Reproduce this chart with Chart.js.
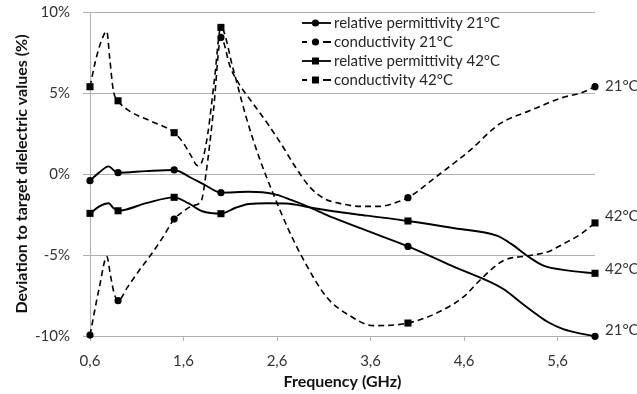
<!DOCTYPE html>
<html>
<head>
<meta charset="utf-8">
<script src="https://cdn.jsdelivr.net/npm/chart.js@4.4.1/dist/chart.umd.min.js"></script>
<style>
  html, body { margin: 0; padding: 0; background: #ffffff; }
  #wrap { width: 637px; height: 394px; }
</style>
</head>
<body>
<div id="wrap"><canvas id="c" width="637" height="394"></canvas></div>
<script>
// ---------- data ----------
const xTickValues = [0.6, 1.6, 2.6, 3.6, 4.6, 5.6];
const yTickValues = [-10, -5, 0, 5, 10];
const markerFreqs = [0.6, 0.9, 1.5, 2.0, 4.0, 6.0];

const seriesNames = [
  'relative permittivity 21°C',
  'conductivity 21°C',
  'relative permittivity 42°C',
  'conductivity 42°C'
];
const endLabels = ['21°C', '21°C', '42°C', '42°C'];

const perm21Freq = [0.6, 0.7, 0.8, 0.85, 0.9, 1.2, 1.5, 1.67, 1.83, 2.0, 2.3, 2.56, 2.75, 2.95, 3.2, 3.56, 4.0, 4.5, 5.02, 5.2, 5.37, 5.5, 5.66, 5.85, 6.0];
const perm21Val  = [-0.41, 0.1, 0.47, 0.25, 0.08, 0.18, 0.25, -0.2, -0.68, -1.15, -1.1, -1.23, -1.6, -2.06, -2.7, -3.5, -4.47, -5.75, -7.1, -7.9, -8.64, -9.15, -9.57, -9.85, -10.02];

const cond21Freq = [0.6, 0.7, 0.78, 0.82, 0.86, 0.9, 1.0, 1.12, 1.25, 1.38, 1.5, 1.6, 1.7, 1.79, 1.84, 1.92, 2.0, 2.1, 2.2, 2.35, 2.5, 2.65, 2.8, 2.95, 3.1, 3.3, 3.5, 3.7, 3.85, 4.0, 4.34, 4.66, 4.98, 5.3, 5.66, 5.85, 6.0];
const cond21Val  = [-9.94, -7.0, -5.1, -6.3, -7.4, -7.82, -7.0, -6.0, -5.0, -3.9, -2.78, -2.3, -1.95, -1.65, 0.0, 3.9, 8.43, 6.6, 5.5, 4.3, 3.1, 1.8, 0.4, -0.8, -1.5, -1.85, -2.0, -2.0, -1.8, -1.46, 0.0, 1.44, 3.09, 3.9, 4.73, 5.0, 5.39];

const perm42Freq = [0.6, 0.7, 0.8, 0.85, 0.9, 1.2, 1.5, 1.65, 1.8, 2.0, 2.15, 2.3, 2.5, 2.7, 2.95, 3.2, 3.56, 4.0, 4.5, 4.95, 5.1, 5.3, 5.45, 5.7, 6.0];
const perm42Val  = [-2.43, -2.0, -1.81, -2.1, -2.27, -1.8, -1.44, -1.8, -2.3, -2.45, -2.1, -1.85, -1.81, -1.82, -2.06, -2.3, -2.57, -2.9, -3.35, -3.81, -4.3, -5.15, -5.66, -5.95, -6.13];

const cond42Freq = [0.6, 0.66, 0.72, 0.78, 0.81, 0.85, 0.9, 1.02, 1.24, 1.5, 1.6, 1.67, 1.755, 1.8, 1.86, 1.93, 2.0, 2.13, 2.27, 2.41, 2.56, 2.72, 2.87, 3.13, 3.38, 3.63, 4.0, 4.3, 4.59, 4.8, 5.02, 5.3, 5.5, 5.66, 5.85, 6.0];
const cond42Val  = [5.39, 7.0, 8.2, 8.8, 7.2, 5.14, 4.52, 3.9, 3.29, 2.55, 1.9, 1.23, 0.51, 0.8, 2.5, 5.8, 9.05, 6.5, 3.5, 1.0, -1.23, -3.4, -5.15, -7.6, -8.75, -9.36, -9.2, -8.6, -7.6, -6.38, -5.35, -5.04, -4.8, -4.32, -3.7, -3.02];

// ---------- chart ----------
const FONT = 'Lato, "Open Sans", sans-serif';
const GRID = '#b0b0b0';

function pts(fs, vs) { return fs.map((f, i) => ({ x: f, y: vs[i] })); }

const seriesFreq = [perm21Freq, cond21Freq, perm42Freq, cond42Freq];
const seriesVal  = [perm21Val, cond21Val, perm42Val, cond42Val];
const dashed = [false, true, false, true];
const square = [false, false, true, true];
const labelDy = [-6, -1, -4, -7];

const datasets = seriesNames.map((name, i) => ({
  label: name,
  data: pts(seriesFreq[i], seriesVal[i]),
  borderColor: '#000',
  backgroundColor: '#000',
  borderWidth: dashed[i] ? 1.6 : 1.9,
  borderDash: dashed[i] ? [6, 4] : [],
  cubicInterpolationMode: 'monotone',
  pointStyle: square[i] ? 'rect' : 'circle',
  pointRadius: ctx => markerFreqs.some(m => Math.abs(m - ctx.raw.x) < 1e-9) ? (square[i] ? 5 : 3.6) : 0,
  pointBorderWidth: 0,
  pointBackgroundColor: '#000',
  clip: false,
  endLabel: endLabels[i],
  endDy: labelDy[i]
}));

const legendPlugin = {
  id: 'customLegend',
  afterDraw(chart) {
    const ctx = chart.ctx;
    const x0 = 302, x1 = 331, xm = 315.5, xt = 334;
    const rows = [23, 42, 61, 80];
    ctx.save();
    seriesNames.forEach((name, i) => {
      const y = rows[i];
      ctx.strokeStyle = '#000';
      ctx.fillStyle = '#000';
      ctx.lineWidth = 1.8;
      ctx.setLineDash([]);
      ctx.beginPath();
      if (dashed[i]) {
        ctx.moveTo(x0, y); ctx.lineTo(x0 + 5, y);
        ctx.moveTo(x1 - 8, y); ctx.lineTo(x1, y);
      } else {
        ctx.moveTo(x0, y); ctx.lineTo(x1, y);
      }
      ctx.stroke();
      ctx.beginPath();
      if (square[i]) {
        ctx.rect(xm - 3.5, y - 3.5, 7, 7);
      } else {
        ctx.arc(xm, y, 3.6, 0, Math.PI * 2);
      }
      ctx.fill();
      ctx.fillStyle = '#262626';
      ctx.font = '15px ' + FONT;
      ctx.textAlign = 'left';
      ctx.textBaseline = 'middle';
      ctx.fillText(name, xt, y);
    });
    ctx.restore();
  }
};

const endLabelPlugin = {
  id: 'endLabels',
  afterDatasetsDraw(chart) {
    const ctx = chart.ctx;
    ctx.save();
    ctx.fillStyle = '#333';
    ctx.font = '15px ' + FONT;
    ctx.textAlign = 'left';
    ctx.textBaseline = 'middle';
    chart.data.datasets.forEach((ds, i) => {
      const meta = chart.getDatasetMeta(i);
      const last = meta.data[meta.data.length - 1];
      ctx.fillText(ds.endLabel, last.x + 10, last.y + ds.endDy);
    });
    ctx.restore();
  }
};

new Chart(document.getElementById('c'), {
  type: 'line',
  data: { datasets },
  plugins: [legendPlugin, endLabelPlugin],
  options: {
    responsive: false,
    animation: false,
    events: [],
    layout: { padding: { top: 12, right: 42, bottom: 0, left: 0 } },
    plugins: { legend: { display: false }, tooltip: { enabled: false } },
    scales: {
      x: {
        type: 'linear',
        min: 0.6,
        max: 6.0,
        afterBuildTicks: s => { s.ticks = xTickValues.map(v => ({ value: v })); },
        afterFit: s => { s.height = 58; s.paddingLeft = 0; s.paddingRight = 0; },
        ticks: {
          callback: v => Number(v).toFixed(1).replace('.', ','),
          font: { family: FONT, size: 15 },
          color: '#333',
          padding: 11,
          maxRotation: 0,
          autoSkip: false
        },
        grid: { drawOnChartArea: false, drawTicks: true, tickLength: 5, color: GRID },
        border: { color: GRID },
        title: {
          display: true,
          text: 'Frequency (GHz)',
          font: { family: FONT, size: 16, weight: 'bold' },
          color: '#111',
          padding: { top: 0, bottom: 2.4 }
        }
      },
      y: {
        min: -10,
        max: 10,
        afterBuildTicks: s => { s.ticks = yTickValues.map(v => ({ value: v })); },
        afterFit: s => { s.width = 90; s.paddingTop = 0; s.paddingBottom = 0; },
        ticks: {
          callback: v => v + '%',
          font: { family: FONT, size: 15 },
          color: '#333',
          padding: 13
        },
        grid: { color: GRID, tickLength: 7 },
        border: { color: GRID },
        title: {
          display: true,
          text: 'Deviation to target dielectric values (%)',
          font: { family: FONT, size: 16, weight: 'bold' },
          color: '#111',
          padding: { top: 12.4, bottom: 0 }
        }
      }
    }
  }
});
</script>
</body>
</html>
